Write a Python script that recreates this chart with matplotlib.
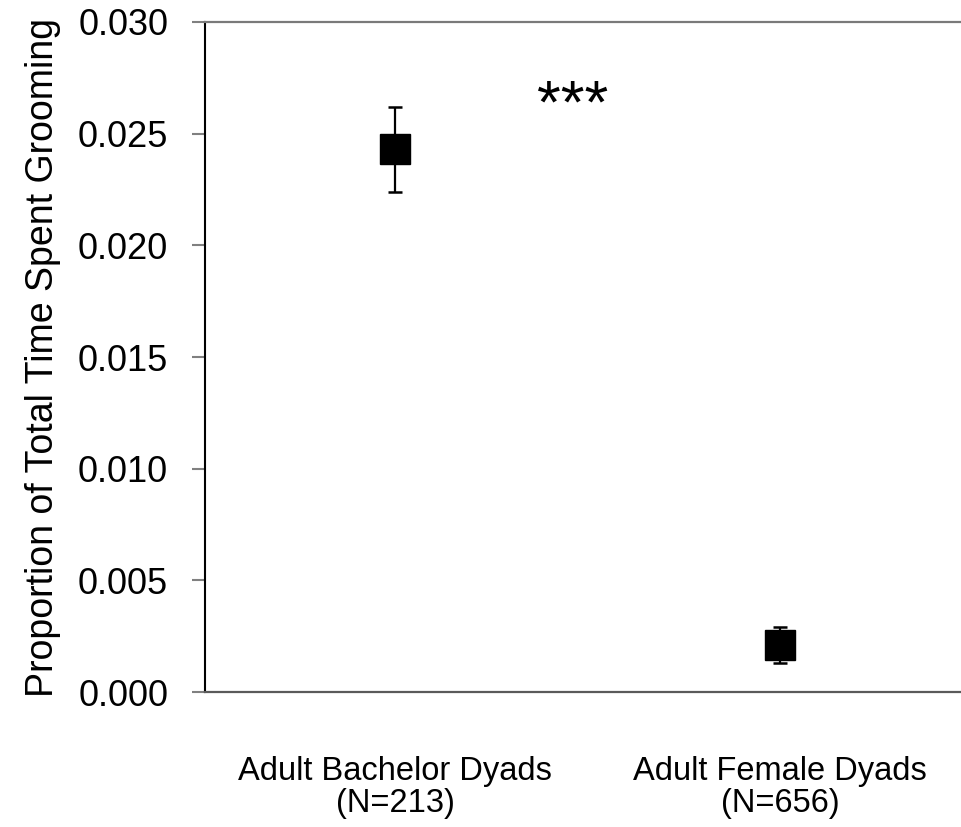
import matplotlib.pyplot as plt

plt.rcParams['font.family'] = ['Liberation Sans', 'DejaVu Sans']

# Grooming proportions per dyad type (mean and error)
groups = ['Adult Bachelor Dyads\n(N=213)', 'Adult Female Dyads\n(N=656)']
positions = [1, 2]
means = [0.0243, 0.0021]
errors = [0.0019, 0.0008]
y_ticks = [0.000, 0.005, 0.010, 0.015, 0.020, 0.025, 0.030]

fig = plt.figure(figsize=(9.61, 8.27), dpi=100)
ax = fig.add_axes([0.2133, 0.1632, 0.7867, 0.8102])

ax.errorbar(positions, means, yerr=errors, fmt='s', color='black',
            markersize=21, elinewidth=1.6, capsize=5, capthick=1.8)

ax.text(1.46, 0.0262, '***', ha='center', va='center', fontsize=44)

ax.set_xlim(0.505, 2.47)
ax.set_ylim(0, 0.030)
ax.set_yticks(y_ticks)
ax.set_yticklabels([f'{v:.3f}' for v in y_ticks], fontsize=26)
ax.set_xticks(positions)
ax.set_xticklabels(groups, fontsize=23.5, linespacing=1.05)
ax.tick_params(axis='x', length=0, pad=46)
ax.tick_params(axis='y', direction='out', length=9.5, width=1.5,
               color='#808080', pad=17)

ax.set_ylabel('Proportion of Total Time Spent Grooming', fontsize=27,
              labelpad=12)

ax.spines['right'].set_visible(False)
ax.spines['top'].set_color('#7a7a7a')
ax.spines['top'].set_linewidth(1.6)
ax.spines['bottom'].set_color('#5a5a5a')
ax.spines['bottom'].set_linewidth(1.6)
ax.spines['left'].set_color('black')
ax.spines['left'].set_linewidth(1.5)

fig.savefig('out.png', dpi=100, facecolor='white')
